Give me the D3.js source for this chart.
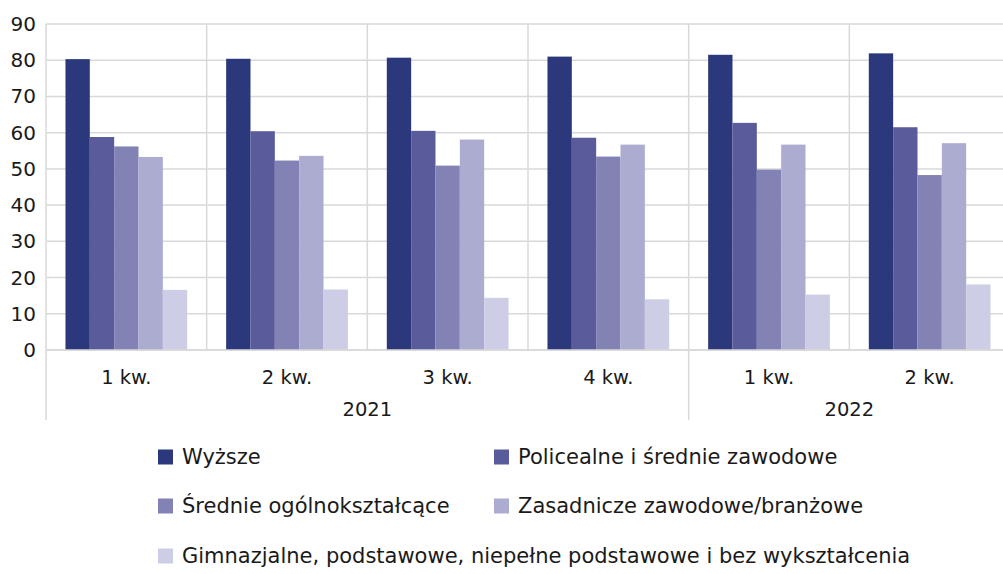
<!DOCTYPE html>
<html>
<head>
<meta charset="utf-8">
<script src="https://cdn.jsdelivr.net/npm/d3@7"></script>
<style>
  body { margin: 0; background: #fff; }
  svg { display: block; font-family: "DejaVu Sans", sans-serif; }
</style>
</head>
<body>
<svg id="chart" width="1003" height="574"></svg>
<script>
// quarters along the x axis, grouped by year
const quarters = ["1 kw.", "2 kw.", "3 kw.", "4 kw.", "1 kw.", "2 kw."];
const years = ["2021", "2021", "2021", "2021", "2022", "2022"];
const yearLabels = ["2021", "2022"];

const seriesNames = [
    "Wyższe",
    "Policealne i średnie zawodowe",
    "Średnie ogólnokształcące",
    "Zasadnicze zawodowe/branżowe",
    "Gimnazjalne, podstawowe, niepełne podstawowe i bez wykształcenia"
];

const wyzsze       = [80.3, 80.4, 80.7, 81.0, 81.5, 81.9];
const policealne   = [58.8, 60.4, 60.5, 58.6, 62.7, 61.5];
const srednieOgol  = [56.2, 52.3, 50.9, 53.4, 49.8, 48.3];
const zasadnicze   = [53.3, 53.6, 58.1, 56.7, 56.7, 57.1];
const gimnazjalne  = [16.6, 16.7, 14.4, 14.0, 15.3, 18.1];

const yTicks = [0, 10, 20, 30, 40, 50, 60, 70, 80, 90];

const colors = ["#2c387c", "#5a5b9a", "#8382b4", "#acabd0", "#cdcde5"];

const seriesValues = [wyzsze, policealne, srednieOgol, zasadnicze, gimnazjalne];

const svg = d3.select("#chart");
const plotLeft = 46, plotRight = 1010, plotTop = 24, plotBottom = 350;
const grid = "#d9d9d9";

const ids = quarters.map((q, i) => i);
const x0 = d3.scaleBand().domain(ids).range([plotLeft, plotRight]).padding(0);
const x1 = d3.scaleBand().domain(d3.range(seriesNames.length))
    .range([0, x0.bandwidth()]).paddingInner(0).paddingOuter(0.8);
const y = d3.scaleLinear().domain([0, 90]).range([plotBottom, plotTop]);

// horizontal gridlines
svg.append("g")
    .selectAll("line")
    .data(yTicks)
    .join("line")
    .attr("x1", plotLeft)
    .attr("x2", plotRight)
    .attr("y1", d => y(d))
    .attr("y2", d => y(d))
    .attr("stroke", grid)
    .attr("stroke-width", 1.5);

// vertical category separators; year boundaries run down past the labels
svg.append("g")
    .selectAll("line")
    .data(ids)
    .join("line")
    .attr("x1", d => x0(d))
    .attr("x2", d => x0(d))
    .attr("y1", plotTop)
    .attr("y2", d => (d === 0 || years[d] !== years[d - 1]) ? 420 : plotBottom)
    .attr("stroke", grid)
    .attr("stroke-width", 1.5);

// y axis labels
svg.append("g")
    .selectAll("text")
    .data(yTicks)
    .join("text")
    .attr("x", 36)
    .attr("y", d => y(d))
    .attr("dy", "0.35em")
    .attr("text-anchor", "end")
    .attr("font-size", 20)
    .attr("fill", "#1a1a1a")
    .text(d => d);

// bars
const groups = svg.append("g")
    .selectAll("g")
    .data(ids)
    .join("g")
    .attr("transform", d => `translate(${x0(d)},0)`);

groups.selectAll("rect")
    .data(i => seriesValues.map((vals, s) => ({ s, v: vals[i] })))
    .join("rect")
    .attr("x", d => x1(d.s))
    .attr("width", x1.bandwidth())
    .attr("y", d => y(d.v))
    .attr("height", d => y(0) - y(d.v))
    .attr("fill", d => colors[d.s]);

// baseline
svg.append("line")
    .attr("x1", plotLeft).attr("x2", plotRight)
    .attr("y1", plotBottom).attr("y2", plotBottom)
    .attr("stroke", grid).attr("stroke-width", 1.5);

// quarter labels
svg.append("g")
    .selectAll("text")
    .data(ids)
    .join("text")
    .attr("x", d => x0(d) + x0.bandwidth() / 2)
    .attr("y", 377)
    .attr("dy", "0.35em")
    .attr("text-anchor", "middle")
    .attr("font-size", 19.5)
    .attr("fill", "#1a1a1a")
    .text(d => quarters[d]);

// year labels
svg.append("g")
    .selectAll("text")
    .data(yearLabels)
    .join("text")
    .attr("x", yr => {
        const idx = ids.filter(i => years[i] === yr);
        return (x0(idx[0]) + x0(idx[idx.length - 1]) + x0.bandwidth()) / 2;
    })
    .attr("y", 409)
    .attr("dy", "0.35em")
    .attr("text-anchor", "middle")
    .attr("font-size", 19.5)
    .attr("fill", "#1a1a1a")
    .text(d => d);

// legend
const legendPos = [[158, 457], [494, 457], [158, 506], [494, 506], [158, 556]];
const legend = svg.append("g")
    .selectAll("g")
    .data(seriesNames)
    .join("g")
    .attr("transform", (d, i) => `translate(${legendPos[i][0]},${legendPos[i][1]})`);

legend.append("rect")
    .attr("x", 0).attr("y", -7.5)
    .attr("width", 15).attr("height", 15)
    .attr("fill", (d, i) => colors[i]);

legend.append("text")
    .attr("x", 24)
    .attr("dy", "0.35em")
    .attr("font-size", 21)
    .attr("fill", "#1a1a1a")
    .text(d => d);
</script>
</body>
</html>
